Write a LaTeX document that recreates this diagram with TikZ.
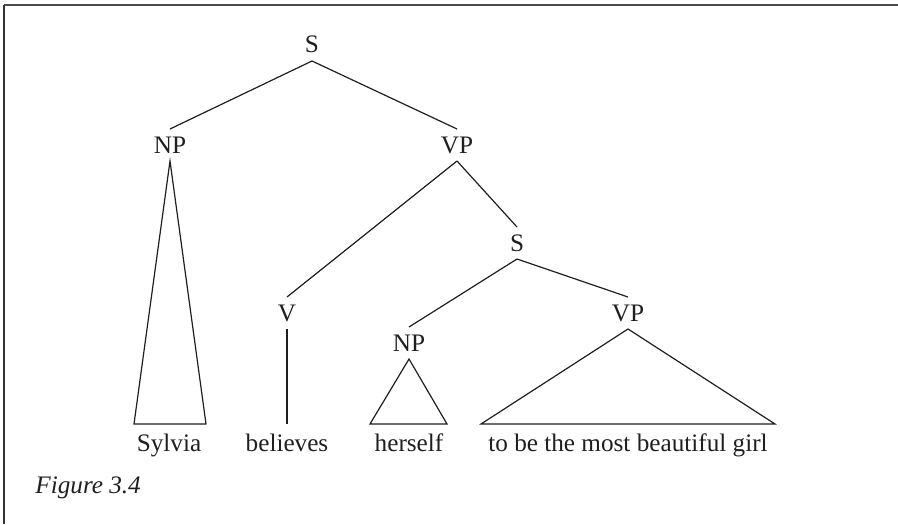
\documentclass[tikz,border=0pt]{standalone}
\usepackage{fontspec}
\setmainfont{Liberation Serif}
\newcommand\treefont{\fontsize{12.6}{15}\selectfont}
\begin{document}
\begin{tikzpicture}[x=0.5pt,y=-0.5pt,
  cat/.style={inner xsep=1pt, inner ysep=0pt, text height=8pt, text depth=0pt, outer ysep=4pt, font=\treefont, text=black!88},
  leaf/.style={inner sep=0pt, anchor=base, font=\treefont, text=black!88},
  branch/.style={line width=0.6pt, draw=black!88, line join=miter}]
\useasboundingbox (0,0) rectangle (898,524);
\draw[line width=1pt, black!70] (4,5) -- (898,5);
\draw[line width=0.7pt, black!80] (4,5) -- (4,524);
% categories
\node[cat] (S)   at (312,45)  {S};
\node[cat] (NP)  at (170,145) {NP};
\node[cat] (VP)  at (457,145) {VP};
\node[cat] (V)   at (287,313) {V};
\node[cat] (S2)  at (517,243) {S};
\node[cat] (NP2) at (409,343) {NP};
\node[cat] (VP2) at (628,313) {VP};
% leaves
\node[leaf] (sylvia)   at (169,451) {Sylvia};
\node[leaf] (believes) at (287,451) {believes};
\node[leaf] (herself)  at (409,451) {herself};
\node[leaf] (girl)     at (628,451) {to be the most beautiful girl};
\node[inner sep=0pt, anchor=base west, font=\treefont\itshape, text=black!88] (cap) at (35,493) {Figure 3.4};
% triangle bases
\coordinate (npl) at (134,424);
\coordinate (npr) at (206,424);
\coordinate (vb)  at (287,424);
\coordinate (np2l) at (370,424);
\coordinate (np2r) at (447,424);
\coordinate (vp2l) at (481,424);
\coordinate (vp2r) at (775,424);
% branches
\draw[branch] (S.south) -- (NP.north);
\draw[branch] (S.south) -- (VP.north);
\draw[branch] (VP.south) -- (V.north);
\draw[branch] (VP.south) -- (S2.north);
\draw[branch] (S2.south) -- (NP2.north);
\draw[branch] (S2.south) -- (VP2.north);
\draw[branch] (V.south) -- (vb);
\draw[branch] (NP.south) -- (npl) -- (npr) -- cycle;
\draw[branch] (NP2.south) -- (np2l) -- (np2r) -- cycle;
\draw[branch] (VP2.south) -- (vp2l) -- (vp2r) -- cycle;
\end{tikzpicture}
\end{document}
